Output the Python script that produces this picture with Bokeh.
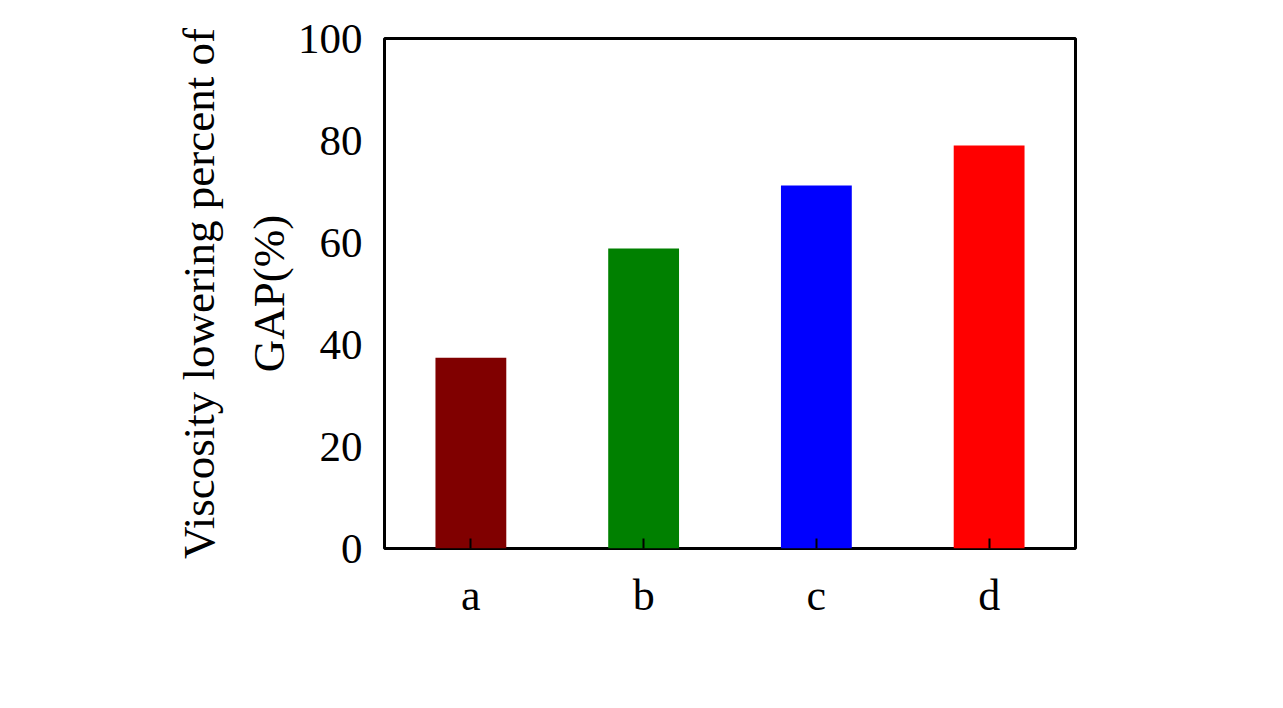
from bokeh.plotting import figure
from bokeh.models import LinearAxis, FixedTicker, ColumnDataSource, Range1d, FactorRange
from bokeh.embed import file_html
from bokeh.resources import INLINE

categories = ["a", "b", "c", "d"]
values = [37.4, 58.8, 71.2, 79.0]
colors = ["#800000", "#008000", "#0000ff", "#ff0000"]
y_ticks = [0, 20, 40, 60, 80, 100]

FONT = "Liberation Serif"

src = ColumnDataSource(dict(cat=categories, val=values, color=colors))

p = figure(width=1275, height=700, x_range=FactorRange(*categories, range_padding=0),
           y_range=Range1d(0, 100), output_backend="svg", toolbar_location=None,
           min_border_left=384, min_border_right=200, min_border_top=38, min_border_bottom=152)
p.vbar(x="cat", top="val", width=0.41, color="color", source=src, line_color=None)

p.xgrid.visible = False
p.ygrid.visible = False
p.outline_line_color = "black"
p.outline_line_width = 3
p.background_fill_color = "white"
p.border_fill_color = "white"

xa = p.xaxis[0]
xa.axis_line_color = None
xa.major_tick_in = 10
xa.major_tick_out = 0
xa.major_tick_line_width = 2
xa.major_tick_line_color = "black"
xa.major_label_standoff = 22
xa.major_label_text_font = FONT
xa.major_label_text_font_size = "44px"
xa.major_label_text_color = "black"

ya = p.yaxis[0]
ya.ticker = FixedTicker(ticks=y_ticks)
ya.axis_line_color = None
ya.major_tick_line_color = None
ya.minor_tick_line_color = None
ya.major_tick_in = 0
ya.major_tick_out = 0
ya.major_label_standoff = 22
ya.major_label_text_font = FONT
ya.major_label_text_font_size = "43px"
ya.major_label_text_color = "black"
ya.axis_label = "GAP(%)"
ya.axis_label_standoff = 1
ya.axis_label_text_font = FONT
ya.axis_label_text_font_size = "45px"
ya.axis_label_text_font_style = "normal"
ya.axis_label_text_color = "black"

outer = LinearAxis(ticker=FixedTicker(ticks=[]), axis_label="Viscosity lowering percent of")
outer.axis_line_color = None
outer.major_tick_line_color = None
outer.minor_tick_line_color = None
outer.major_tick_in = 0
outer.major_tick_out = 0
outer.major_label_standoff = 0
outer.axis_label_standoff = 17
outer.axis_label_text_font = FONT
outer.axis_label_text_font_size = "45px"
outer.axis_label_text_font_style = "normal"
outer.axis_label_text_color = "black"
p.add_layout(outer, "left")

open("out.html", "w").write(file_html(p, INLINE))
